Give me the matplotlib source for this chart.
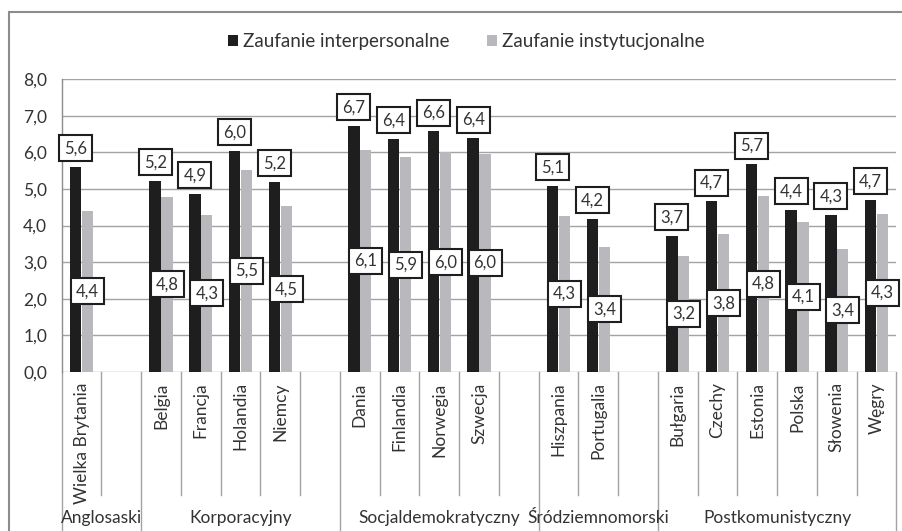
import matplotlib
matplotlib.use("Agg")
import matplotlib.pyplot as plt
from matplotlib.patches import Rectangle
import matplotlib.transforms as mtransforms

plt.rcParams["font.family"] = ["Lato", "DejaVu Sans"]

# groups of countries (welfare regimes)
groups = ["Anglosaski", "Korporacyjny", "Socjaldemokratyczny",
          "Śródziemnomorski", "Postkomunistyczny"]
countries = [
    ["Wielka Brytania"],
    ["Belgia", "Francja", "Holandia", "Niemcy"],
    ["Dania", "Finlandia", "Norwegia", "Szwecja"],
    ["Hiszpania", "Portugalia"],
    ["Bułgaria", "Czechy", "Estonia", "Polska", "Słowenia", "Węgry"],
]
interpersonal = [5.60, 5.22, 4.87, 6.04, 5.19, 6.72, 6.37, 6.57, 6.39,
                 5.08, 4.18, 3.72, 4.66, 5.67, 4.43, 4.29, 4.70]
institutional = [4.40, 4.79, 4.30, 5.52, 4.52, 6.07, 5.86, 6.00, 5.96,
                 4.27, 3.42, 3.17, 3.76, 4.81, 4.09, 3.36, 4.31]
series_names = ["Zaufanie interpersonalne", "Zaufanie instytucjonalne"]

BLACK = "#1e1e1e"
GRAY = "#b9b9bd"
TXT = "#333333"
LINE = "#a3a3a3"
FS = 12.5

# slot positions: each group followed by one empty slot (except the last)
pos, names, bounds = [], [], [-0.5]
slot = 0
for gi, cs in enumerate(countries):
    for c in cs:
        pos.append(slot)
        names.append(c)
        slot += 1
    if gi < len(countries) - 1:
        slot += 1
    bounds.append(slot - 0.5)
n_slots = slot

fig = plt.figure(figsize=(9.02, 5.31), dpi=100)
ax = fig.add_axes([0.0684, 0.2994, 0.9939 - 0.0684, 0.8512 - 0.2994])

w = 0.285
off = 0.15
xb = [p - off for p in pos]
xg = [p + off for p in pos]
b1 = ax.bar(xb, interpersonal, width=w, color=BLACK, zorder=3, label=series_names[0])
b2 = ax.bar(xg, institutional, width=w, color=GRAY, zorder=3, label=series_names[1])

ax.set_xlim(-0.5, n_slots - 0.5)
ax.set_ylim(0, 8)
ax.set_yticks(range(0, 9))
ax.set_yticklabels([f"{v:.1f}".replace(".", ",") for v in range(0, 9)],
                   fontsize=FS, color=TXT)
ax.tick_params(axis="y", length=0, pad=10.5)
ax.set_xticks([])
ax.grid(axis="y", color=LINE, linewidth=1.0, zorder=0)
for s in ["top", "right", "bottom"]:
    ax.spines[s].set_visible(False)
ax.spines["left"].set_color("#8c8c8c")
ax.spines["left"].set_linewidth(1.0)

box = dict(boxstyle="square,pad=0.3", facecolor="white", edgecolor=BLACK, linewidth=1.5)

def fmt(v):
    return f"{v:.1f}".replace(".", ",")

for x, v in zip(xb, interpersonal):
    ax.annotate(fmt(v), (x, v), xytext=(0, 13.3), textcoords="offset points",
                ha="center", va="center", fontsize=12, color=TXT, bbox=box, zorder=5)
for x, v in zip(xg, institutional):
    ax.annotate(fmt(v), (x, v / 2), ha="center", va="center", fontsize=12,
                color=TXT, bbox=box, zorder=5)

# category axis: tick lines, rotated names, group names
trans = mtransforms.blended_transform_factory(ax.transData, ax.transAxes)
for k in range(1, n_slots):
    b = k - 0.5
    if b in bounds:
        continue
    ax.plot([b, b], [0, -0.42], transform=trans, color=LINE, linewidth=1.0, clip_on=False)
for b in bounds:
    ax.plot([b, b], [0, -0.56], transform=trans, color=LINE, linewidth=1.0, clip_on=False)
for p, nm in zip(pos, names):
    ax.text(p, -0.035, nm, transform=trans, rotation=90, ha="center", va="top",
            fontsize=FS, color=TXT)
for gi, g in enumerate(groups):
    ax.text((bounds[gi] + bounds[gi + 1]) / 2, -0.498, g, transform=trans,
            ha="center", va="center", fontsize=FS, color=TXT)

fig.legend(handles=[b1, b2], loc="center", bbox_to_anchor=(0.5174, 0.921), ncol=2,
           frameon=False, fontsize=13.5, handlelength=0.5, handleheight=0.5,
           handletextpad=0.3, columnspacing=2.0, labelcolor=TXT)

# outer chart border (cropped at right/bottom)
fig.patches.append(Rectangle((9 / 902, -0.2), 1.5, 0.9774 + 0.2, transform=fig.transFigure,
                             fill=False, edgecolor="#8c8c8c", linewidth=1.5))

fig.savefig("out.png", dpi=100)
